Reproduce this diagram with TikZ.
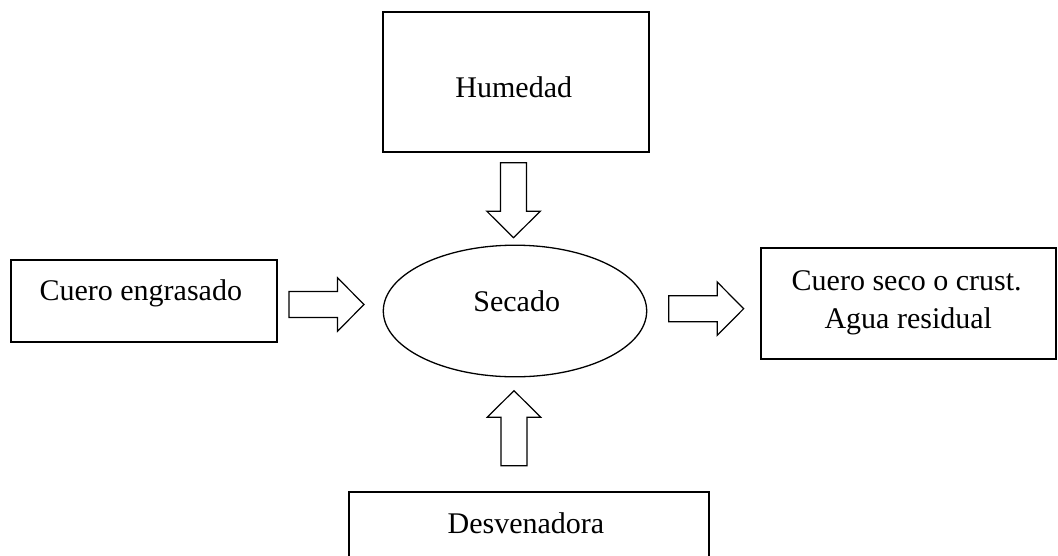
\documentclass[tikz,border=0pt]{standalone}
\usepackage{fontspec}
\setmainfont{Liberation Serif}
\usetikzlibrary{calc,shapes.geometric}
\begin{document}
\begin{tikzpicture}[x=1pt,y=-1pt,
  box/.style={draw, line width=2pt, rectangle, inner sep=0pt},
  proc/.style={draw, line width=1.3pt, ellipse, inner sep=0pt},
  lbl/.style={inner sep=0pt, anchor=base, font=\fontsize{30}{36}\selectfont},
  pics/blockarrow/.style={code={
    \draw[line width=1.2pt, line join=miter]
      (0,-13) -- (48.5,-13) -- (48.5,-26.75) -- (75,0) -- (48.5,26.75)
      -- (48.5,13) -- (0,13) -- cycle;}}
]
\clip (0,0) rectangle (1058,555);

% process and its inputs / outputs
\node[box, minimum width=266.3pt, minimum height=140.3pt] (hum)  at (515.85,81.85) {};
\node[box, minimum width=266pt,   minimum height=81.7pt]  (ceng) at (144,300.85) {};
\node[proc, minimum width=263.4pt, minimum height=131.6pt] (sec) at (515,311) {};
\node[box, minimum width=295.3pt, minimum height=111.4pt] (out)  at (908.4,303.5) {};
\node[box, minimum width=360.3pt, minimum height=120pt]   (desv) at (529.15,552.3) {};

% labels
\node[lbl] (humT)  at (513.8,97)   {Humedad};
\node[lbl] (cengT) at (140.8,300)  {Cuero engrasado};
\node[lbl] (secT)  at (516.7,311.7) {Secado};
\node[lbl] (outA)  at (906.7,290)  {Cuero seco o crust.};
\node[lbl] (outB)  at (908.3,328)  {Agua residual};
\node[lbl] (desvT) at (526,533)    {Desvenadora};

% block arrows between the boxes and the process
\pic[rotate=-90] at ($(hum.south)+(-2.3,9.7)$)   {blockarrow};
\pic             at ($(ceng.east)+(11,3.65)$)    {blockarrow};
\pic             at ($(sec.east)+(21.3,-2.3)$)   {blockarrow};
\pic[rotate=90]  at ($(desv.north)+(-15.15,-25.6)$) {blockarrow};
\end{tikzpicture}
\end{document}
